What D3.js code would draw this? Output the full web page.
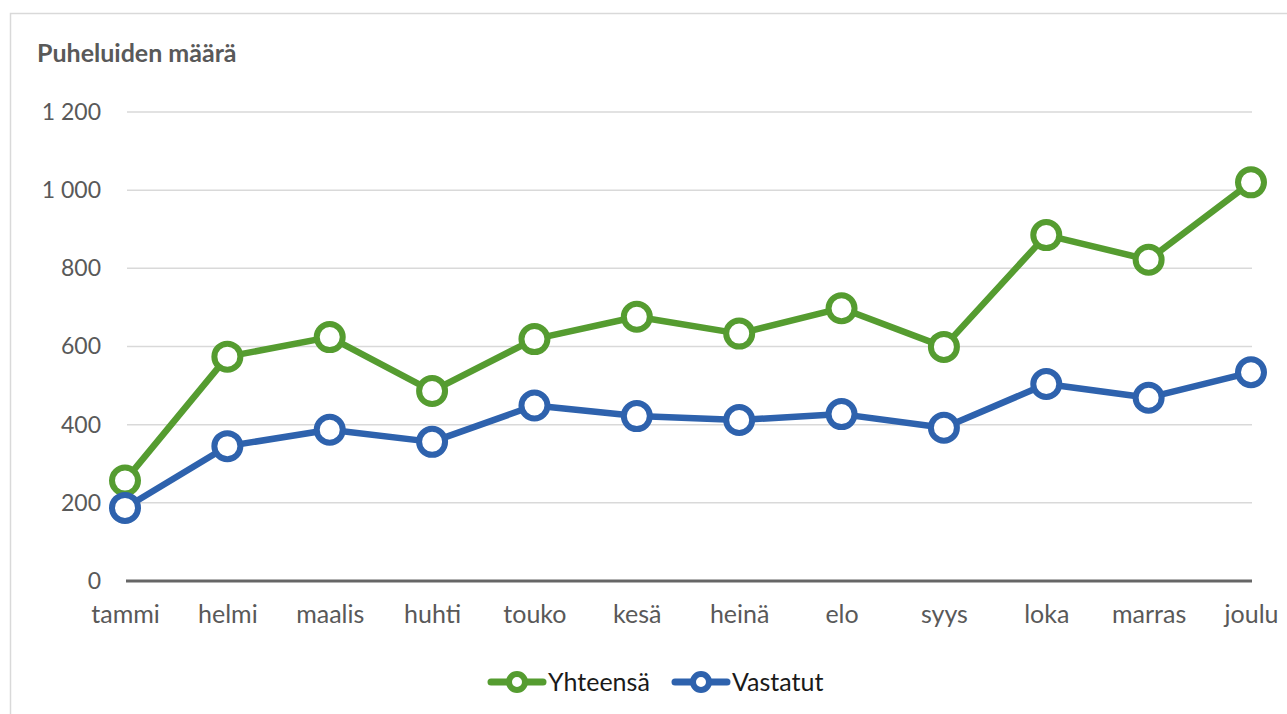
<!DOCTYPE html>
<meta charset="utf-8">
<style>
body { margin: 0; background: #fff; font-family: Lato, "Open Sans", sans-serif; }
.grid line { stroke: #d9d9d9; stroke-width: 1.5; }
.tick text { fill: #595959; font-size: 23px; font-family: Lato, "Open Sans", sans-serif; }
.xaxis .tick text { font-size: 25px; }
</style>
<body>
<script src="https://cdn.jsdelivr.net/npm/d3@7"></script>
<script>

var width = 1287,
    height = 714;

var months = ["tammi", "helmi", "maalis", "huhti", "touko", "kesä", "heinä", "elo", "syys", "loka", "marras", "joulu"];
var yhteensa = [257, 574, 624, 486, 619, 676, 633, 698, 599, 885, 822, 1020];
var vastatut = [187, 345, 387, 356, 449, 422, 412, 427, 392, 504, 469, 534];
var yTicks = [0, 200, 400, 600, 800, 1000, 1200];

var series = [
  {name: "Yhteensä", values: yhteensa, color: "#559c30"},
  {name: "Vastatut", values: vastatut, color: "#2e62ad"}
];

var x = d3.scalePoint()
    .domain(months)
    .range([125, 1251]);

var y = d3.scaleLinear()
    .domain([0, 1200])
    .range([581, 112]);

var svg = d3.select("body").append("svg")
    .attr("width", width)
    .attr("height", height);

// chart frame
svg.append("rect")
    .attr("x", 10.5).attr("y", 13.5)
    .attr("width", 1400).attr("height", 800)
    .attr("fill", "none")
    .attr("stroke", "#d9d9d9")
    .attr("stroke-width", 1.5);

svg.append("text")
    .attr("x", 37).attr("y", 62)
    .attr("fill", "#595959")
    .attr("font-size", 25)
    .attr("font-weight", "bold")
    .text("Puheluiden määrä");

// gridlines + y labels
var yAxis = d3.axisLeft(y)
    .tickValues(yTicks)
    .tickSize(0)
    .tickPadding(24)
    .tickFormat(function(d) { return d3.format(",")(d).replace(",", " "); });

svg.append("g")
    .attr("transform", "translate(125,0)")
    .call(yAxis)
    .call(function(g) { g.select(".domain").remove(); });

svg.append("g")
    .attr("class", "grid")
    .selectAll("line")
    .data(yTicks.slice(1))
  .enter().append("line")
    .attr("x1", 127).attr("x2", 1252)
    .attr("y1", function(d) { return y(d); })
    .attr("y2", function(d) { return y(d); });

// x axis
var xAxis = d3.axisBottom(x)
    .tickSize(0)
    .tickPadding(24);

svg.append("g")
    .attr("class", "xaxis")
    .attr("transform", "translate(0," + y(0) + ")")
    .call(xAxis)
    .call(function(g) { g.select(".domain").remove(); });

svg.append("line")
    .attr("x1", 126).attr("x2", 1252)
    .attr("y1", y(0)).attr("y2", y(0))
    .attr("stroke", "#666")
    .attr("stroke-width", 3);

var line = d3.line()
    .x(function(d, i) { return x(months[i]); })
    .y(function(d) { return y(d); });

series.forEach(function(s) {
  svg.append("path")
      .datum(s.values)
      .attr("fill", "none")
      .attr("stroke", s.color)
      .attr("stroke-width", 6.5)
      .attr("stroke-linejoin", "round")
      .attr("d", line);

  svg.append("g").selectAll("circle")
      .data(s.values)
    .enter().append("circle")
      .attr("cx", function(d, i) { return x(months[i]); })
      .attr("cy", function(d) { return y(d); })
      .attr("r", 13)
      .attr("fill", "#fff")
      .attr("stroke", s.color)
      .attr("stroke-width", 6);
});

// legend
var legend = svg.append("g")
    .selectAll("g")
    .data(series)
  .enter().append("g")
    .attr("transform", function(d, i) { return "translate(" + [489, 673][i] + ",682)"; });

legend.append("line")
    .attr("x1", 2).attr("x2", 54)
    .attr("stroke", function(d) { return d.color; })
    .attr("stroke-width", 7)
    .attr("stroke-linecap", "round");

legend.append("circle")
    .attr("cx", 28)
    .attr("r", 8)
    .attr("fill", "#fff")
    .attr("stroke", function(d) { return d.color; })
    .attr("stroke-width", 6);

legend.append("text")
    .attr("x", 59)
    .attr("dy", "0.35em")
    .attr("fill", "#1a1a1a")
    .attr("font-size", 25)
    .text(function(d) { return d.name; });

</script>
